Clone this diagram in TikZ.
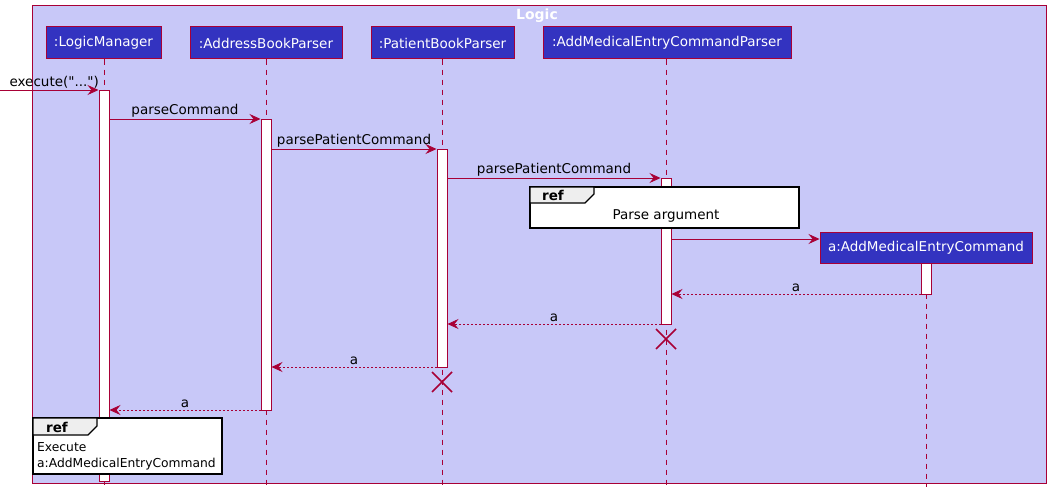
\documentclass[tikz,border=0pt]{standalone}
\usepackage{fontspec}
\setmainfont{DejaVu Sans}[Ligatures=TeXOff]
\usetikzlibrary{arrows.meta}
\definecolor{crim}{HTML}{A80036}
\definecolor{framebg}{HTML}{C8C8F8}
\definecolor{partbg}{HTML}{3333C0}
\definecolor{tabgray}{HTML}{EEEEEE}
\begin{document}
\begin{tikzpicture}[x=1pt,y=-1pt,font=\fontsize{13.5}{16}\selectfont,
  part/.style={draw=crim,fill=partbg,text=white,line width=1pt,inner sep=0pt,minimum height=32pt},
  life/.style={draw=crim,dash pattern=on 5pt off 5pt,line width=0.8pt},
  act/.style={draw=crim,fill=white,line width=1pt,inner sep=0pt,minimum width=10pt},
  msg/.style={draw=crim,line width=0.8pt,-{Stealth[length=11pt,width=10pt,inset=4pt]}},
  ret/.style={msg,dash pattern=on 2pt off 2pt},
  lbl/.style={inner sep=0pt,above=1.5pt,text=black},
  refbox/.style={draw=black,fill=white,line width=1.3pt},
  reftab/.style={draw=black,fill=tabgray,line width=1.3pt},
  xmark/.style={draw=crim,line width=1.5pt}
]
\useasboundingbox (0,0) rectangle (1051,495);
\fill[white] (0,0) rectangle (1051,495);
\draw[crim,fill=framebg,line width=1pt] (32,6) rectangle (1046,483);
\node[text=white,font=\fontsize{14}{16}\selectfont\bfseries] (title) at (537,16) {Logic};
% participants
\node[part,minimum width=115pt] (lm) at (103.5,43) {:LogicManager};
\node[part,minimum width=152pt] (abp) at (266,43) {:AddressBookParser};
\node[part,minimum width=143pt] (pbp) at (442.5,43) {:PatientBookParser};
\node[part,minimum width=248pt] (acp) at (667,43) {:AddMedicalEntryCommandParser};
\node[part,minimum width=212pt,minimum height=31pt] (amec) at (926,247.5) {a:AddMedicalEntryCommand};
% lifelines
\coordinate (lmEnd) at (104,487);
\coordinate (abpEnd) at (266,487);
\coordinate (pbpEnd) at (442,487);
\coordinate (acpEnd) at (666,487);
\coordinate (amecEnd) at (926,487);
\draw[life] (lm.south -| lmEnd) -- (lmEnd);
\draw[life] (abp.south -| abpEnd) -- (abpEnd);
\draw[life] (pbp.south -| pbpEnd) -- (pbpEnd);
\draw[life] (acp.south -| acpEnd) -- (acpEnd);
\draw[life] (amec.south -| amecEnd) -- (amecEnd);
% activations
\node[act,minimum height=391pt] (aLM) at (104,285.5) {};
\node[act,minimum height=291pt] (aABP) at (266,264.5) {};
\node[act,minimum height=218pt] (aPBP) at (442,258) {};
\node[act,minimum height=146pt] (aACP) at (666,251) {};
\node[act,minimum height=31pt] (aAMEC) at (926,278.5) {};
% messages
\coordinate (start) at (0,90);
\draw[msg] (start) -- (aLM.west |- start) node[lbl,midway,xshift=5pt] {execute("...")};
\draw[msg] (aLM.east |- 0,119) -- (aABP.west |- 0,119) node[lbl,midway] {parseCommand};
\draw[msg] (aABP.east |- 0,149) -- (aPBP.west |- 0,149) node[lbl,midway] {parsePatientCommand};
\draw[msg] (aPBP.east |- 0,178) -- (aACP.west |- 0,178) node[lbl,midway] {parsePatientCommand};
% ref parse argument
\draw[refbox] (530,187) rectangle (799,228);
\draw[reftab] (530,187) -- (594,187) -- (594,194) -- (585,203) -- (530,203) -- cycle;
\node[font=\fontsize{13.5}{16}\selectfont\bfseries] (ref1) at (553,195.5) {ref};
\node (parsearg) at (666,215.5) {Parse argument};
% create
\draw[msg] (aACP.east |- 0,239) -- (amec.west |- 0,239);
% returns
\draw[ret] (aAMEC.west |- 0,294) -- (aACP.east |- 0,294) node[lbl,midway] {a};
\draw[ret] (aACP.west |- 0,324) -- (aPBP.east |- 0,324) node[lbl,midway] {a};
\draw[xmark] (656,329) -- (676,349) (676,329) -- (656,349);
\draw[ret] (aPBP.west |- 0,367) -- (aABP.east |- 0,367) node[lbl,midway] {a};
\draw[xmark] (432,372) -- (452,392) (452,372) -- (432,392);
\draw[ret] (aABP.west |- 0,410) -- (aLM.east |- 0,410) node[lbl,midway] {a};
% ref execute
\draw[refbox] (33,418) rectangle (222,474);
\draw[reftab] (33,418) -- (97,418) -- (97,426) -- (88,435) -- (33,435) -- cycle;
\node[font=\fontsize{13.5}{16}\selectfont\bfseries] (ref2) at (57,427) {ref};
\node[anchor=north west,align=left,inner sep=0pt,font=\fontsize{12.3}{16}\selectfont] (exec) at (37,442) {Execute\\a:AddMedicalEntryCommand};
\end{tikzpicture}
\end{document}
